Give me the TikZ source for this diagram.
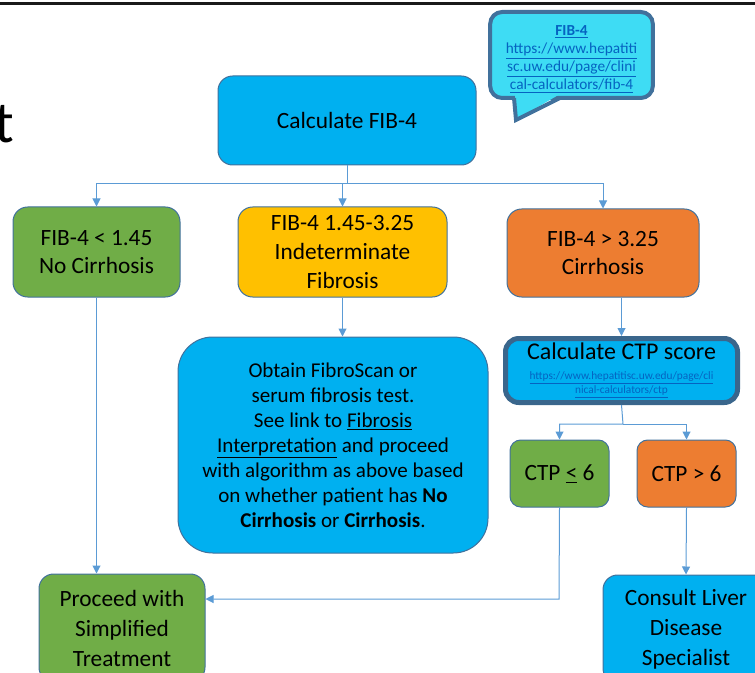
\documentclass[tikz,border=0pt]{standalone}
\usepackage{fontspec}
\setmainfont{Carlito}
\usetikzlibrary{arrows.meta}
\definecolor{boxblue}{HTML}{00B0F0}
\definecolor{boxgreen}{HTML}{70AD47}
\definecolor{boxgold}{HTML}{FFC000}
\definecolor{boxorange}{HTML}{ED7D31}
\definecolor{edgeblue}{HTML}{41719C}
\definecolor{linkblue}{HTML}{0563C1}
\definecolor{wireblue}{HTML}{5B9BD5}
\definecolor{calloutcyan}{HTML}{3EDCF4}
\newcommand{\bigfont}{\fontsize{17.5}{21.5}\selectfont}
\begin{document}
\begin{tikzpicture}[x=0.75pt,y=-0.75pt,
    box/.style={draw=edgeblue,line width=0.75pt,rounded corners=11pt,align=center,
      font=\bigfont,inner sep=2pt},
    wire/.style={draw=wireblue,line width=0.75pt,-{Triangle[width=6pt,length=6pt]}}]
  \clip (0,0) rectangle (755,673);
  \draw[line width=2.25pt,black!90] (0,4) -- (755,4);
  \node[anchor=base east,inner sep=0pt,font=\fontsize{44}{50}\selectfont] (title) at (14,143) {t};
  % callout with the FIB-4 link
  \node[fill=calloutcyan,draw=edgeblue,line width=3pt,rounded corners=9pt,
    minimum width=122pt,minimum height=64.5pt,align=center,text=linkblue,
    font=\fontsize{11.5}{13.5}\selectfont] (fiblink) at (571.5,55)
    {\rule{0pt}{14pt}\textbf{\underline{FIB-4}}\\\underline{https://www.hepatiti}\\
     \underline{sc.uw.edu/page/clini}\\\underline{cal-calculators/fib-4}};
  \coordinate (tip) at (516,120);
  \fill[calloutcyan] (515,94) -- (tip) -- (560,94) -- cycle;
  \draw[edgeblue,line width=3pt,line join=miter] (514,98) -- (tip) -- (560,98);
  % first step and the three FIB-4 ranges
  \node[box,fill=boxblue,minimum width=193.5pt,minimum height=66.75pt] (calc) at (347,120.5) {Calculate FIB-4};
  \node[box,fill=boxgreen,minimum width=125.25pt,minimum height=67.5pt] (low) at (96.5,252) {FIB-4 < 1.45\\No Cirrhosis};
  \node[box,fill=boxgold,minimum width=156.75pt,minimum height=67.5pt] (mid) at (342.5,252) {FIB-4 1.45-3.25\\Indeterminate\\Fibrosis};
  \node[box,fill=boxorange,minimum width=144pt,minimum height=66pt] (high) at (603,253) {FIB-4 > 3.25\\Cirrhosis};
  \node[box,fill=boxblue,rounded corners=26pt,minimum width=232.5pt,minimum height=162pt,
    font=\fontsize{15.8}{18.8}\selectfont] (fibro) at (333,445)
    {Obtain FibroScan or\\serum fibrosis test.\\See link to \underline{Fibrosis}\\
     \underline{Interpretation} and proceed\\with algorithm as above based\\
     on whether patient has \textbf{No}\\\textbf{Cirrhosis} or \textbf{Cirrhosis}.};
  \node[box,fill=boxblue,draw=edgeblue!90!black,line width=3.75pt,rounded corners=10pt,
    minimum width=174pt,minimum height=48pt,font=\fontsize{8.5}{10.5}\selectfont] (ctp) at (621.5,370.5)
    {{\fontsize{18}{21.5}\selectfont Calculate CTP score}\\[4pt]
     {\color{linkblue}\underline{https://www.hepatitisc.uw.edu/page/cli}}\\
     {\color{linkblue}\underline{nical-calculators/ctp}}};
  \node[box,fill=boxgreen,rounded corners=8pt,minimum width=74.25pt,minimum height=50.25pt] (ctplow) at (559.5,473.5) {CTP \underline{<} 6};
  \node[box,fill=boxorange,rounded corners=8pt,minimum width=74.25pt,minimum height=50.25pt] (ctphigh) at (686.5,473.5) {CTP > 6};
  \node[box,fill=boxgreen,minimum width=124.5pt,minimum height=81pt,font=\fontsize{17.5}{22.5}\selectfont] (proceed) at (122,628) {Proceed with\\Simplified\\Treatment};
  \node[box,fill=boxblue,minimum width=124.5pt,minimum height=81pt,font=\fontsize{17.5}{22.5}\selectfont] (consult) at (686,629) {Consult Liver\\Disease\\Specialist};
  % connectors
  \coordinate (fork1) at (347,184);
  \coordinate (fork2) at (623,424);
  \coordinate (join) at (559,599);
  \draw[wire] (calc.south) -- (fork1) -| (low.north);
  \draw[wire] (fork1) -| (high.north);
  \draw[wire] (fork1 -| mid.north) -- (mid.north);
  \draw[wire] (mid.south) -- (mid.south |- fibro.north);
  \draw[wire] (ctp.north |- high.south) -- (ctp.north);
  \draw[wire] (ctp.south) -- (fork2) -| (ctplow.north);
  \draw[wire] (fork2) -| (ctphigh.north);
  \draw[wire] (ctphigh.south) -- (consult.north);
  \draw[wire] (low.south) -- (low.south |- proceed.north);
  \draw[wire] (ctplow.south) -- (join) -- (join -| proceed.east);
\end{tikzpicture}
\end{document}
